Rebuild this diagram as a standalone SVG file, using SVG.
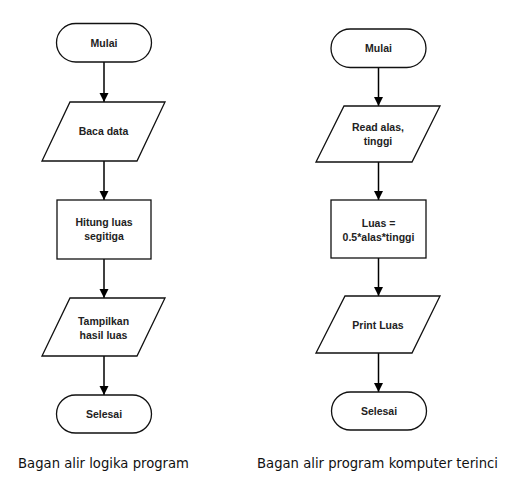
<svg xmlns="http://www.w3.org/2000/svg" width="516" height="484" viewBox="0 0 516 484">
<defs>
<marker id="ah" viewBox="0 0 10 10" refX="10" refY="5" markerWidth="9" markerHeight="10" markerUnits="userSpaceOnUse" orient="auto">
<path d="M0,0 L10,5 L0,10 Z" fill="#000"/>
</marker>
<style>
.shape{fill:#fff;stroke:#111;stroke-width:1.3}
.lbl{font-family:"Liberation Sans",Arial,sans-serif;font-weight:bold;font-size:10.5px;fill:#222;text-anchor:middle}
.cap{font-family:"DejaVu Sans","Verdana",sans-serif;font-size:13.2px;fill:#111;text-anchor:middle}
.conn line{stroke:#000;stroke-width:1.5;marker-end:url(#ah)}
</style>
</defs>
<rect width="516" height="484" fill="#fff"/>

<g id="connectors" class="conn">
<line x1="104" y1="62" x2="104" y2="102"/>
<line x1="104" y1="161" x2="104" y2="200"/>
<line x1="104" y1="259" x2="104" y2="298"/>
<line x1="104" y1="356" x2="104" y2="395"/>
<line x1="378.5" y1="67" x2="378.5" y2="106"/>
<line x1="378.5" y1="162" x2="378.5" y2="200"/>
<line x1="378.5" y1="258" x2="378.5" y2="296"/>
<line x1="378.5" y1="353" x2="378.5" y2="392"/>
</g>

<g id="l-mulai">
<rect class="shape" x="56.5" y="23.5" width="95" height="38.5" rx="19.25"/>
<text class="lbl" x="104" y="47">Mulai</text>
</g>
<g id="l-baca">
<polygon class="shape" points="70,102 165,102 137,161 42,161"/>
<text class="lbl" x="103.5" y="134.5">Baca data</text>
</g>
<g id="l-hitung">
<rect class="shape" x="57" y="200" width="94" height="59"/>
<text class="lbl" x="104" y="225.5">Hitung luas</text>
<text class="lbl" x="104" y="239.5">segitiga</text>
</g>
<g id="l-tampil">
<polygon class="shape" points="70,298 165,298 137,356 42,356"/>
<text class="lbl" x="103.5" y="325">Tampilkan</text>
<text class="lbl" x="103.5" y="338.5">hasil luas</text>
</g>
<g id="l-selesai">
<rect class="shape" x="56.5" y="395" width="95" height="38" rx="19"/>
<text class="lbl" x="104" y="418">Selesai</text>
</g>

<g id="r-mulai">
<rect class="shape" x="331" y="29" width="95" height="38.5" rx="19.25"/>
<text class="lbl" x="378.5" y="52">Mulai</text>
</g>
<g id="r-read">
<polygon class="shape" points="344,106 440,106 412,162 316,162"/>
<text class="lbl" x="378" y="130.5">Read alas,</text>
<text class="lbl" x="378" y="145">tinggi</text>
</g>
<g id="r-luas">
<rect class="shape" x="331" y="200" width="95" height="58"/>
<text class="lbl" x="378.5" y="227">Luas =</text>
<text class="lbl" x="378.5" y="241">0.5*alas*tinggi</text>
</g>
<g id="r-print">
<polygon class="shape" points="345,296 440,296 412,353 316,353"/>
<text class="lbl" x="378" y="329">Print Luas</text>
</g>
<g id="r-selesai">
<rect class="shape" x="331.5" y="392" width="95" height="38" rx="19"/>
<text class="lbl" x="379" y="415">Selesai</text>
</g>

<text class="cap" x="103.5" y="468">Bagan alir logika program</text>
<text class="cap" x="377.5" y="468">Bagan alir program komputer terinci</text>
</svg>
